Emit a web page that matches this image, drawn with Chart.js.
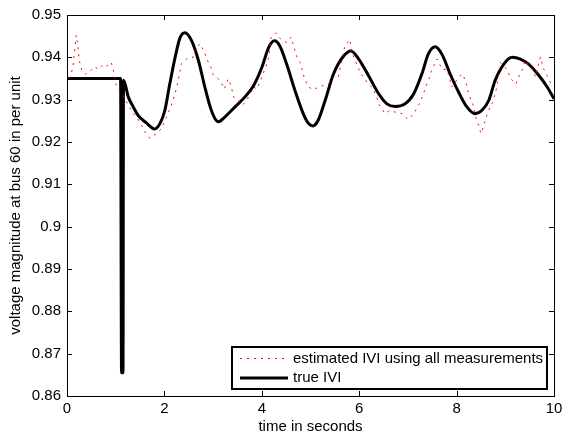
<!DOCTYPE html>
<html lang="en">
<head>
<meta charset="UTF-8">
<script src="https://cdn.jsdelivr.net/npm/chart.js@4.4.1/dist/chart.umd.min.js"></script>
<title>Voltage magnitude at bus 60</title>
<style>
  body { margin: 0; background: #fff; }
</style>
</head>
<body>
<canvas id="myChart" width="568" height="436"></canvas>
<script>
// true |V|
const timeTrue = [0, 1.10, 1.12, 1.15, 1.16, 1.26, 1.36, 1.46, 1.63, 1.8, 1.91, 2.01, 2.11, 2.22, 2.32, 2.42,
  2.56, 2.7, 2.83, 2.94, 3.04, 3.11, 3.24, 3.45, 3.65, 3.83, 4.0, 4.14, 4.26, 4.37, 4.51, 4.68, 4.84, 4.95,
  5.05, 5.16, 5.3, 5.47, 5.68, 5.83, 5.99, 6.19, 6.4, 6.57, 6.74, 6.94, 7.12, 7.29, 7.42, 7.56, 7.7, 7.87,
  8.04, 8.21, 8.38, 8.52, 8.66, 8.79, 8.97, 9.14, 9.31, 9.48, 9.69, 9.86, 10];
const voltTrue = [0.935, 0.935, 0.8655, 0.8655, 0.9346, 0.9306, 0.9283, 0.9263, 0.9245, 0.9231, 0.9244, 0.9275,
  0.9337, 0.940, 0.9446, 0.9458, 0.9439, 0.9392, 0.933, 0.9283, 0.9255, 0.9248, 0.9259, 0.9283, 0.9306, 0.9333,
  0.9376, 0.9423, 0.9439, 0.9427, 0.9384, 0.9322, 0.9270, 0.9245, 0.9238, 0.9252, 0.9298, 0.936, 0.9403, 0.9415,
  0.9396, 0.9357, 0.9314, 0.929, 0.9284, 0.929, 0.9314, 0.9362, 0.9408, 0.9425, 0.9407, 0.936, 0.9318, 0.9283,
  0.9267, 0.9275, 0.9298, 0.9345, 0.9384, 0.940, 0.9396, 0.9384, 0.9357, 0.933, 0.9302];

// estimated |V| using all measurements
const timeEst = [0.05, 0.12, 0.15, 0.19, 0.22, 0.25, 0.3, 0.38, 0.5, 0.57, 0.64, 0.71, 0.78, 0.85, 0.91, 0.95,
  1.0, 1.05, 1.15, 1.26, 1.36, 1.45, 1.53, 1.6, 1.7, 1.77, 1.84, 1.94, 2.05, 2.15, 2.22, 2.29, 2.35, 2.42, 2.5,
  2.59, 2.63, 2.73, 2.8, 2.85, 2.9, 2.96, 3.0, 3.1, 3.18, 3.23, 3.31, 3.37, 3.42, 3.52, 3.6, 3.69, 3.76, 3.83,
  3.9, 3.95, 4.0, 4.05, 4.1, 4.14, 4.19, 4.29, 4.37, 4.44, 4.51, 4.6, 4.68, 4.72, 4.79, 4.84, 4.89, 4.96, 5.06,
  5.16, 5.25, 5.37, 5.47, 5.57, 5.6, 5.68, 5.72, 5.81, 5.85, 5.95, 6.02, 6.09, 6.16, 6.29, 6.36, 6.4, 6.53,
  6.63, 6.75, 6.88, 7.01, 7.12, 7.18, 7.25, 7.32, 7.39, 7.44, 7.48, 7.53, 7.6, 7.64, 7.71, 7.8, 7.85, 7.9,
  7.97, 8.05, 8.12, 8.18, 8.25, 8.3, 8.35, 8.4, 8.45, 8.5, 8.55, 8.62, 8.69, 8.74, 8.81, 8.85, 8.9, 8.97,
  9.03, 9.12, 9.22, 9.27, 9.34, 9.41, 9.48, 9.55, 9.62, 9.69, 9.72, 9.79, 9.86, 9.92, 10.0];
const voltEst = [0.935, 0.9375, 0.941, 0.9452, 0.943, 0.9395, 0.937, 0.936, 0.937, 0.9378, 0.9372, 0.938,
  0.9375, 0.9384, 0.9388, 0.937, 0.9337, 0.9325, 0.931, 0.9287, 0.9267, 0.9255, 0.924, 0.9224, 0.9209, 0.9215,
  0.922, 0.9232, 0.926, 0.929, 0.9314, 0.9349, 0.9385, 0.9393, 0.940, 0.940, 0.9419, 0.9432, 0.9417, 0.9403,
  0.9389, 0.9375, 0.9359, 0.935, 0.9337, 0.9325, 0.9349, 0.9333, 0.9306, 0.9298, 0.9287, 0.9298, 0.9314, 0.933,
  0.9325, 0.934, 0.9353, 0.9368, 0.9384, 0.940, 0.9446, 0.9458, 0.9445, 0.9439, 0.9435, 0.9448, 0.9417, 0.9401,
  0.9388, 0.9365, 0.9345, 0.933, 0.9323, 0.933, 0.9333, 0.9337, 0.9353, 0.9353, 0.9368, 0.9415, 0.9431, 0.9442,
  0.9411, 0.9384, 0.9364, 0.9353, 0.9341, 0.9325, 0.9306, 0.929, 0.9267, 0.9275, 0.927, 0.9267, 0.9253, 0.9267,
  0.9279, 0.9294, 0.9314, 0.9337, 0.9351, 0.9367, 0.938, 0.9396, 0.9386, 0.9371, 0.9372, 0.9353, 0.933, 0.9341,
  0.9354, 0.9361, 0.9345, 0.9314, 0.9298, 0.9284, 0.9255, 0.924, 0.922, 0.9236, 0.9263, 0.9283, 0.9294, 0.9322,
  0.9349, 0.9388, 0.938, 0.9372, 0.9349, 0.9337, 0.9353, 0.9368, 0.9393, 0.938, 0.9372, 0.9354, 0.9388, 0.9401,
  0.9372, 0.9357, 0.9341, 0.934];

const xTicks = [0, 2, 4, 6, 8, 10];
const yTicks = [0.86, 0.87, 0.88, 0.89, 0.9, 0.91, 0.92, 0.93, 0.94, 0.95];
const seriesNames = ['estimated IVI using all measurements', 'true IVI'];

const font = { family: "'Liberation Sans', Arial, Helvetica, sans-serif", size: 15 };

// box round the plot, with ticks pointing in on all four sides
const frame = {
  id: 'frame',
  afterDatasetsDraw(chart) {
    const { ctx, chartArea: a, scales: { x, y } } = chart;
    ctx.save();
    ctx.strokeStyle = '#000';
    ctx.lineWidth = 1;
    ctx.beginPath();
    x.ticks.forEach(t => {
      const px = Math.round(x.getPixelForValue(t.value)) + 0.5;
      ctx.moveTo(px, a.bottom); ctx.lineTo(px, a.bottom - 5);
      ctx.moveTo(px, a.top); ctx.lineTo(px, a.top + 5);
    });
    y.ticks.forEach(t => {
      const py = Math.round(y.getPixelForValue(t.value)) + 0.5;
      ctx.moveTo(a.left, py); ctx.lineTo(a.left + 5, py);
      ctx.moveTo(a.right, py); ctx.lineTo(a.right - 5, py);
    });
    ctx.stroke();
    ctx.strokeRect(Math.round(a.left) + 0.5, Math.round(a.top) + 0.5, Math.round(a.width), Math.round(a.height));
    ctx.restore();
  }
};

// legend box in the lower right corner of the plot
const boxLegend = {
  id: 'boxLegend',
  afterDraw(chart) {
    const { ctx, chartArea: a } = chart;
    ctx.save();
    ctx.font = `${font.size}px ${font.family}`;
    const tw = Math.max(...seriesNames.map(s => ctx.measureText(s).width));
    const w = Math.round(61 + tw + 4), h = 42;
    const left = Math.round(a.right - 7 - w), top = Math.round(a.bottom - 7 - h);
    ctx.fillStyle = '#fff';
    ctx.fillRect(left, top, w, h);
    ctx.strokeStyle = '#000';
    ctx.lineWidth = 2;
    ctx.strokeRect(left, top, w, h);
    chart.data.datasets.forEach((ds, i) => {
      const ly = top + 11.5 + i * 19.5;
      ctx.beginPath();
      ctx.strokeStyle = ds.borderColor;
      ctx.lineWidth = ds.borderWidth;
      ctx.setLineDash(ds.borderDash || []);
      ctx.moveTo(left + 8, ly);
      ctx.lineTo(left + 56, ly);
      ctx.stroke();
      ctx.setLineDash([]);
      ctx.fillStyle = '#000';
      ctx.textBaseline = 'middle';
      ctx.fillText(ds.label, left + 61, ly);
    });
    ctx.restore();
  }
};

new Chart('myChart', {
  type: 'scatter',
  data: {
    datasets: [{
      label: seriesNames[0],
      data: timeEst.map((t, i) => ({ x: t, y: voltEst[i] })),
      showLine: true,
      borderColor: 'rgb(255,0,0)',
      borderWidth: 1,
      borderDash: [2, 5],
      pointRadius: 0,
      tension: 0
    }, {
      label: seriesNames[1],
      data: timeTrue.map((t, i) => ({ x: t, y: voltTrue[i] })),
      showLine: true,
      borderColor: '#000',
      borderWidth: 3,
      pointRadius: 0,
      cubicInterpolationMode: 'monotone'
    }]
  },
  options: {
    responsive: false,
    animation: false,
    devicePixelRatio: 1,
    layout: { padding: { top: 12, right: 14, left: 0, bottom: 0 } },
    plugins: { legend: { display: false }, tooltip: { enabled: false } },
    scales: {
      x: {
        type: 'linear', min: 0, max: 10,
        afterBuildTicks: s => { s.ticks = xTicks.map(v => ({ value: v })); },
        afterFit: s => { s.height = 40; },
        grid: { display: false, drawTicks: false },
        border: { display: false },
        ticks: { padding: 4, color: '#000', font, maxRotation: 0, callback: v => String(v) },
        title: { display: true, text: 'time in seconds', color: '#000', font, padding: { top: 0, bottom: 0 } }
      },
      y: {
        type: 'linear', min: 0.86, max: 0.95,
        afterBuildTicks: s => { s.ticks = yTicks.map(v => ({ value: v })); },
        afterFit: s => { s.width = 67; },
        grid: { display: false, drawTicks: false },
        border: { display: false },
        ticks: { padding: 6, color: '#000', font, callback: v => String(+v.toFixed(2)) },
        title: { display: true, text: 'voltage magnitude at bus 60 in per unit', color: '#000', font, padding: { top: 7, bottom: 0 } }
      }
    }
  },
  plugins: [frame, boxLegend]
});
</script>
</body>
</html>
